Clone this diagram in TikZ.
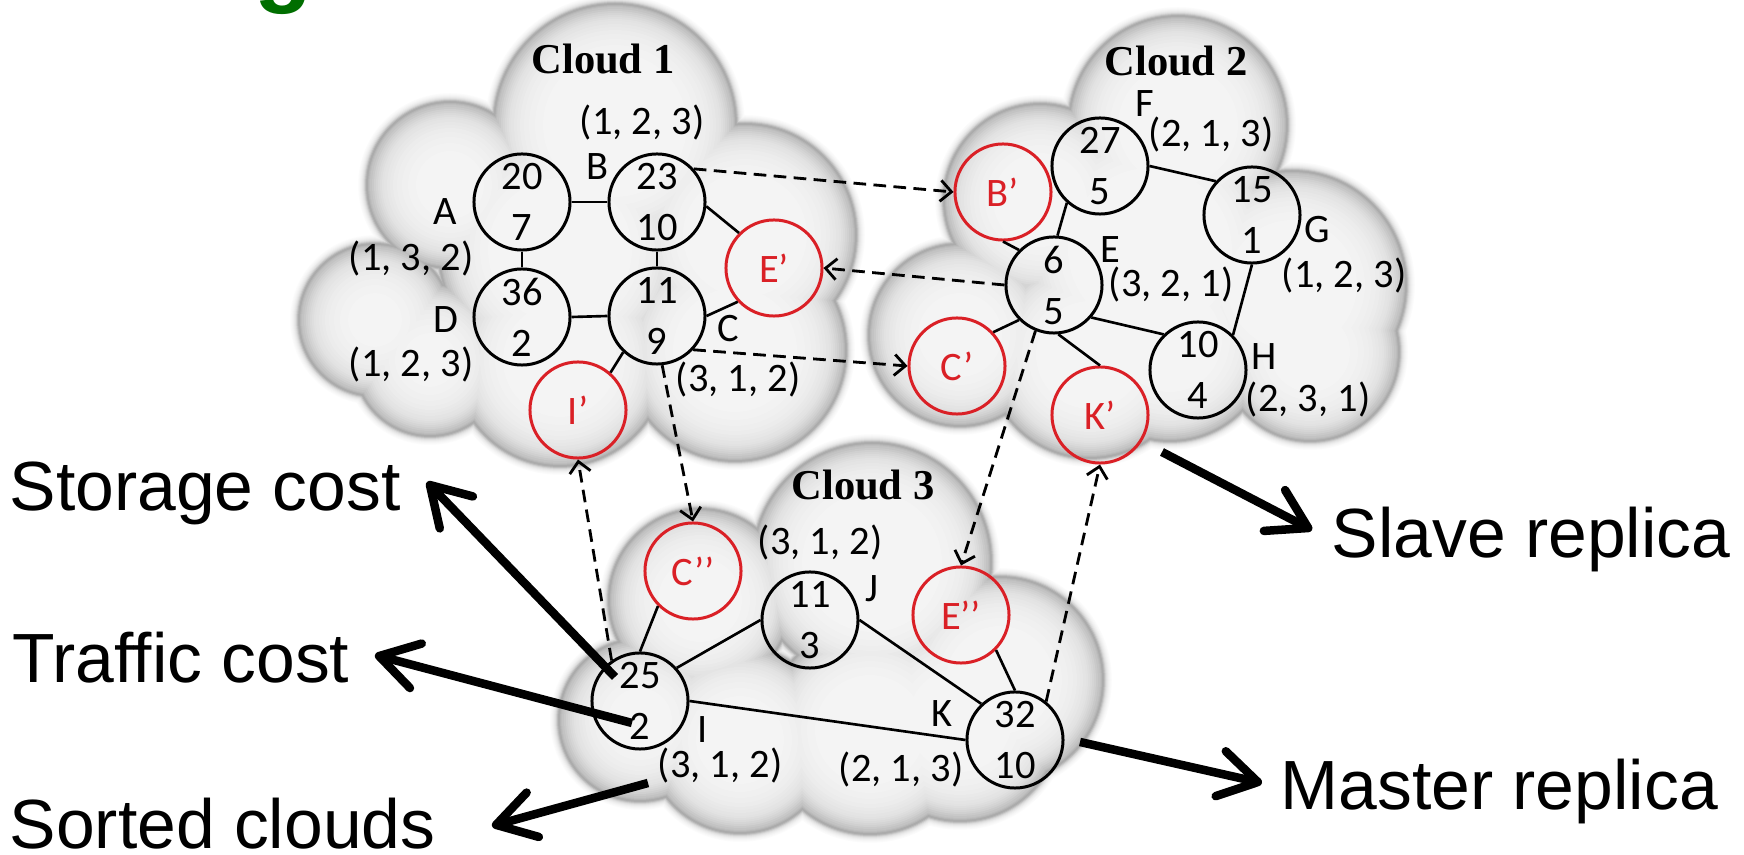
\documentclass[tikz,border=0pt]{standalone}
\usepackage{fontspec}
\setmainfont{Carlito}
\newfontfamily\lblfont{Liberation Sans}
\newfontfamily\ttlfont{Liberation Serif}
\usetikzlibrary{arrows.meta}
\definecolor{repred}{RGB}{218,32,38}
\definecolor{hdgreen}{RGB}{0,110,0}
\newcommand\ndfont{\fontsize{11.5}{14.5}\selectfont}
\newcommand\bigfnt{\lblfont\fontsize{19.8}{23}\selectfont}
\newcommand\ttlfnt{\ttlfont\bfseries\fontsize{12.1}{14}\selectfont}
\tikzset{
  nd/.style={circle, draw=black, line width=0.85pt, minimum size=0.96cm,
    inner sep=0pt, align=center, font=\ndfont},
  rd/.style={circle, draw=repred, line width=0.85pt, minimum size=0.96cm,
    inner sep=0pt, text=repred, font=\ndfont},
  lbl/.style={anchor=base, inner sep=0pt, font=\ndfont},
  ttl/.style={anchor=base, inner sep=0pt, font=\ttlfnt},
  big/.style={anchor=base west, inner sep=0pt, font=\bigfnt},
  edge/.style={line width=0.75pt},
  dsh/.style={line width=0.8pt, dash pattern=on 3.6pt off 2.1pt,
    -{Straight Barb[length=0.11cm, width=0.21cm]}},
  thick arrow/.style={line width=0.085cm,
    -{Straight Barb[length=0.38cm, width=0.46cm, round]}}
}
\begin{document}
\begin{tikzpicture}[x=0.01cm, y=-0.01cm]
\useasboundingbox (0,0) rectangle (1744,855);

% heading fragment cut by the top edge
\node[anchor=base west, inner sep=0pt, text=hdgreen,
  font=\lblfont\bfseries\fontsize{27}{29}\selectfont] (head) at (254,-5) {g};

% three clouds: unions of disks, shaded from the rim inwards
\foreach \d/\w in {10/99,9/97.5,8/96,7/94,6/91.5,5/88,4/82,3/74,2/68,1/67,
    0/71,-1/74,-2/76.5,-4/79,-6/81.5,-8/83.5,-10/85.5,-12/87,-14/88.5,
    -16/89.5,-19/90.5,-22/91.5,-25/92.5,-29/93.5,-34/94.3,-40/95,-48/95.6} {
  \foreach \cx/\cy/\cr in {
      615/125/120, 450/185/82, 375/320/75, 430/360/75, 560/360/105,
      745/235/110, 735/350/110, 560/250/120,
      1178/125/108, 1040/200/95, 960/335/90, 1090/355/102, 1170/340/100,
      1292/285/113, 1310/352/88, 1150/250/130,
      872/562/118, 700/600/90, 640/720/80, 740/740/92, 870/730/103,
      1000/680/102, 960/720/100} {
    \fill[white!\w!black] (\cx,\cy) circle[radius=\cr+\d];
  }
}

% cloud titles
\node[ttl] (t1) at (603,74) {Cloud 1};
\node[ttl] (t2) at (1176,76) {Cloud 2};
\node[ttl] (t3) at (863,500) {Cloud 3};

% cloud 1
\node[nd] (A) at (522,202) {20\\7};
\node[nd] (B) at (657,202) {23\\10};
\node[nd] (D) at (522,317) {36\\2};
\node[nd] (C) at (657,316) {11\\9};
\node[rd] (Ep) at (774,268) {E’};
\node[rd] (Ip) at (578,410) {I’};

% cloud 2
\node[nd] (E) at (1054,285) {6\\5};
\node[nd] (F) at (1100,166) {27\\5};
\node[nd] (G) at (1252,215) {15\\1};
\node[nd] (H) at (1198,370) {10\\4};
\node[rd] (Bp) at (1003,192) {B’};
\node[rd] (Cp) at (957,366) {C’};
\node[rd] (Kp) at (1100,415) {K’};

% cloud 3
\node[nd] (I) at (640,701) {25\\2};
\node[nd] (J) at (810,620) {11\\3};
\node[nd] (K) at (1015,740) {32\\10};
\node[rd] (Cpp) at (693,571) {C’’};
\node[rd] (Epp) at (961,615) {E’’};

% vertex names and sorted cloud lists
\node[lbl] (lA) at (445,225) {A};
\node[lbl] (sA) at (411,271) {(1, 3, 2)};
\node[lbl] (lD) at (446,333) {D};
\node[lbl] (sD) at (411,377) {(1, 2, 3)};
\node[lbl] (lB) at (597,180) {B};
\node[lbl] (sB) at (642,135) {(1, 2, 3)};
\node[lbl] (lC) at (728,342) {C};
\node[lbl] (sC) at (738,392) {(3, 1, 2)};
\node[lbl] (lF) at (1145,117) {F};
\node[lbl] (sF) at (1211,147) {(2, 1, 3)};
\node[lbl] (lE) at (1110,263) {E};
\node[lbl] (sE) at (1171,297) {(3, 2, 1)};
\node[lbl] (lG) at (1317,243) {G};
\node[lbl] (sG) at (1344,288) {(1, 2, 3)};
\node[lbl] (lH) at (1264,370) {H};
\node[lbl] (sH) at (1308,412) {(2, 3, 1)};
\node[lbl] (sJ) at (820,555) {(3, 1, 2)};
\node[lbl] (lJ) at (872,602) {J};
\node[lbl] (lI) at (703,743) {I};
\node[lbl] (sI) at (720,778) {(3, 1, 2)};
\node[lbl] (lK) at (942,727) {K};
\node[lbl] (sK) at (901,782) {(2, 1, 3)};

% graph edges
\draw[edge] (A.east) -- (B.west);
\draw[edge] (A.south) -- (D.north);
\draw[edge] (B.south) -- (C.north);
\draw[edge] (D.east) -- (C.west);
\draw[edge] (B.-5) -- (Ep.135);
\draw[edge] (C.east) -- (Ep.-137);
\draw[edge] (C.-133) -- (Ip.49);
\draw[edge] (Bp.south) -- (E.135);
\draw[edge] (F.-132) -- (E.86);
\draw[edge] (F.east) -- (G.137);
\draw[edge] (G.south) -- (H.45);
\draw[edge] (E.-41) -- (H.134);
\draw[edge] (E.-135) -- (Cp.43);
\draw[edge] (E.-85) -- (Kp.north);
\draw[edge] (Cpp.-135) -- (I.north);
\draw[edge] (I.42) -- (J.west);
\draw[edge] (J.east) -- (K.133);
\draw[edge] (I.east) -- (K.west);
\draw[edge] (Epp.-45) -- (K.north);

% replica placement
\draw[dsh] (B.42) -- (Bp.west);
\draw[dsh] (E.west) -- (Ep.east);
\draw[dsh] (C.-43) -- (Cp.west);
\draw[dsh] (C.-84) -- (Cpp.north);
\draw[dsh] (E.-112) -- (Epp.north);
\draw[dsh] (I.125) -- (Ip.south);
\draw[dsh] (K.51) -- (Kp.south);

% legend
\node[big] (Lst) at (9,511) {Storage cost};
\node[big] (Ltr) at (12,683) {Traffic cost};
\node[big] (Lso) at (9,849) {Sorted clouds};
\node[big] (Lsl) at (1331,558) {Slave replica};
\node[big] (Lma) at (1280,810) {Master replica};

\coordinate (pSt) at (615,677);  \coordinate (qSt) at (427,482);
\coordinate (pTr) at (632,723);  \coordinate (qTr) at (375,655);
\coordinate (pSo) at (648,783);  \coordinate (qSo) at (492,826);
\coordinate (pSl) at (1162,452); \coordinate (qSl) at (1312,530);
\coordinate (pMa) at (1080,742); \coordinate (qMa) at (1262,783);
\draw[thick arrow] (pSt) -- (qSt);
\draw[thick arrow] (pTr) -- (qTr);
\draw[thick arrow] (pSo) -- (qSo);
\draw[thick arrow] (pSl) -- (qSl);
\draw[thick arrow] (pMa) -- (qMa);
\end{tikzpicture}
\end{document}
